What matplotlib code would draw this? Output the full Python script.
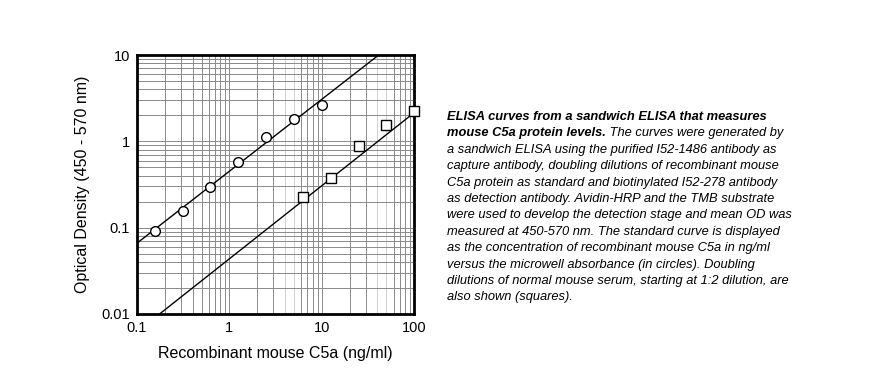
import matplotlib
matplotlib.use('Agg')
import matplotlib.pyplot as plt
from matplotlib.ticker import FixedLocator, NullFormatter

plt.rcParams['font.family'] = ['Liberation Sans', 'DejaVu Sans']

# standard curve (circles)
std_conc = [0.156, 0.313, 0.625, 1.25, 2.5, 5, 10]
std_od = [0.092, 0.157, 0.299, 0.571, 1.12, 1.82, 2.61]
# serum dilutions (squares)
serum_x = [6.25, 12.5, 25, 50, 100]
serum_od = [0.229, 0.373, 0.89, 1.55, 2.25]
# fitted lines
std_fit_x = [0.1, 41.2]
std_fit_y = [0.066, 10]
serum_fit_x = [0.176, 100]
serum_fit_y = [0.01, 2.15]

xticks = [0.1, 1, 10, 100]
xticklabels = ['0.1', '1', '10', '100']
yticks = [0.01, 0.1, 1, 10]
yticklabels = ['0.01', '0.1', '1', '10']

caption_lines = [
    'a sandwich ELISA using the purified I52-1486 antibody as',
    'capture antibody, doubling dilutions of recombinant mouse',
    'C5a protein as standard and biotinylated I52-278 antibody',
    'as detection antibody. Avidin-HRP and the TMB substrate',
    'were used to develop the detection stage and mean OD was',
    'measured at 450-570 nm. The standard curve is displayed',
    'as the concentration of recombinant mouse C5a in ng/ml',
    'versus the microwell absorbance (in circles). Doubling',
    'dilutions of normal mouse serum, starting at 1:2 dilution, are',
    'also shown (squares).',
]

fig = plt.figure(figsize=(8.72, 3.72), dpi=100)
ax = fig.add_axes([0.157, 0.156, 0.318, 0.696])
ax.set_xscale('log')
ax.set_yscale('log')
ax.set_xlim(0.1, 100)
ax.set_ylim(0.01, 10)

# grid lines
minors_x = [m * 10.0 ** e for e in (-1, 0, 1) for m in range(2, 10)]
minors_y = [m * 10.0 ** e for e in (-2, -1, 0) for m in range(2, 10)]
light = [4, 5, 40, 50]
for v in minors_x:
    c = '#d0d0d0' if any(abs(v - l) < 1e-6 for l in light) else '#8a8a8a'
    ax.axvline(v, color=c, lw=0.7, zorder=0)
for v in [1, 10]:
    ax.axvline(v, color='#8a8a8a', lw=0.7, zorder=0)
for v in minors_y + [0.1, 1]:
    ax.axhline(v, color='#8a8a8a', lw=0.7, zorder=0)

ax.plot(std_fit_x, std_fit_y, color='black', lw=1.0, zorder=2)
ax.plot(serum_fit_x, serum_fit_y, color='black', lw=1.0, zorder=2)
ax.plot(std_conc, std_od, 'o', ms=7, mfc='white', mec='black', mew=1.0,
        zorder=3, clip_on=False)
ax.plot(serum_x, serum_od, 's', ms=6.5, mfc='white', mec='black', mew=1.0,
        zorder=3, clip_on=False)

ax.xaxis.set_major_locator(FixedLocator(xticks))
ax.set_xticklabels(xticklabels)
ax.yaxis.set_major_locator(FixedLocator(yticks))
ax.set_yticklabels(yticklabels)
ax.xaxis.set_minor_formatter(NullFormatter())
ax.yaxis.set_minor_formatter(NullFormatter())
ax.tick_params(which='both', length=0, labelsize=10.5, pad=5)
for s in ax.spines.values():
    s.set_linewidth(2)
ax.set_xlabel('Recombinant mouse C5a (ng/ml)', fontsize=11.5, labelpad=8)
ax.set_ylabel('Optical Density (450 - 570 nm)', fontsize=11.5, labelpad=8)

# caption
x0 = 447 / 872
y0 = 1 - 117 / 372
dy = 16.4 / 372
fs = 9.3
fig.text(x0, y0, 'ELISA curves from a sandwich ELISA that measures',
         fontsize=fs, fontweight='bold', style='italic', va='center')
t2 = fig.text(x0, y0 - dy, 'mouse C5a protein levels.',
              fontsize=fs, fontweight='bold', style='italic', va='center')
ax.annotate(' The curves were generated by', xy=(1, 0.5), xycoords=t2,
            va='center', ha='left', fontsize=fs, style='italic',
            annotation_clip=False)
for i, line in enumerate(caption_lines):
    fig.text(x0, y0 - dy * (i + 2), line, fontsize=fs, style='italic',
             va='center')

fig.savefig('out.png', dpi=100)
